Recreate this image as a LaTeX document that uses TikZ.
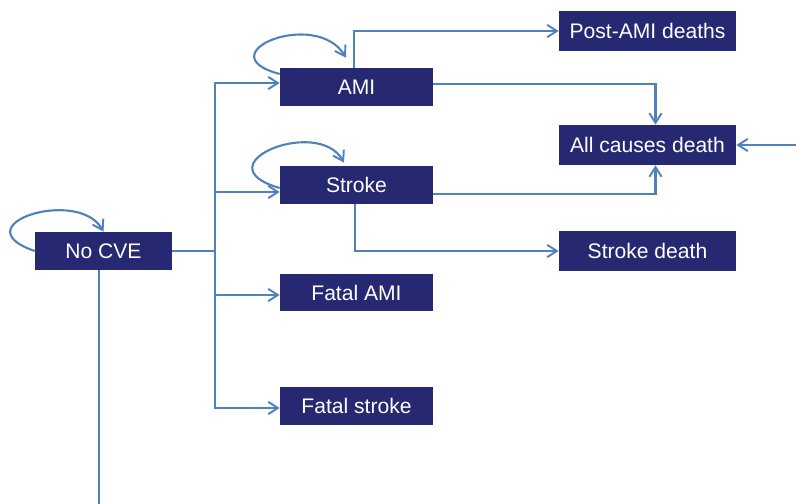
\documentclass[tikz,border=0pt]{standalone}
\usepackage{fontspec}
\setmainfont{Liberation Sans}
\usepackage{xcolor}
\usetikzlibrary{arrows.meta}
\definecolor{boxblue}{RGB}{38,40,114}
\definecolor{lineblue}{RGB}{79,129,189}
\tikzstyle {state box} = [rectangle, fill=boxblue, text=white, inner sep=0pt,
    minimum width=3.06cm, minimum height=0.76cm, font=\fontsize{12}{14}\selectfont]
\tikzstyle {death box} = [state box, minimum width=3.54cm, minimum height=0.8cm]
\tikzset{link/.style = {draw=lineblue, line width=1.2pt},
    flow/.style = {link, -{Straight Barb[length=5.5pt,width=7pt,line width=1.1pt]}}}

\begin{document}
\begin{tikzpicture}[x=0.02cm, y=-0.02cm]
            \useasboundingbox (0,0) rectangle (796,504);
            \node[state box, minimum width=2.74cm] (ncve) at (103.5, 251) {No CVE};
            \node[state box] (ami) at (356.5, 87) {AMI};
            \node[state box] (stroke) at (356.5, 185) {Stroke};
            \node[state box] (fami) at (356.5, 292.5) {Fatal AMI};
            \node[state box] (fstroke) at (356.5, 406) {Fatal stroke};
            \node[death box] (postami) at (647.5, 31) {Post-AMI deaths};
            \node[death box] (alldeath) at (647.5, 145) {All causes death};
            \node[death box] (sdeath) at (647.5, 251) {Stroke death};
            \coordinate (other) at (796, 145);
            \coordinate (exit) at (99, 504);
            \draw[flow] (ncve.west) .. controls +(-75,-26) and +(-25,-45) .. (ncve.north);
            \draw[flow] ([shift={(0,-13)}]ami.west) .. controls +(-75,-20) and +(-30,-50) .. ([shift={(-10.5,-10)}]ami.north);
            \draw[flow] ([shift={(0,3)}]stroke.west) .. controls +(-80,-23) and +(-26,-47) .. ([shift={(-12.5,-3)}]stroke.north);
            \draw[flow] (ncve.east) -- ++(43,0) |- ([shift={(0,-4)}]ami.west);
            \draw[flow] (ncve.east) -- ++(43,0) |- ([shift={(0,7)}]stroke.west);
            \draw[flow] (ncve.east) -- ++(43,0) |- ([shift={(0,2.5)}]fami.west);
            \draw[flow] (ncve.east) -- ++(43,0) |- ([shift={(0,2)}]fstroke.west);
            \draw[flow] ([shift={(-2.5,0)}]ami.north) |- (postami.west);
            \draw[flow] ([shift={(0,-3)}]ami.east) -| ([shift={(8,0)}]alldeath.north);
            \draw[flow] ([shift={(0,9)}]stroke.east) -| ([shift={(8,0)}]alldeath.south);
            \draw[flow] ([shift={(-1.5,0)}]stroke.south) |- (sdeath.west);
            \draw[flow] (other) -- (alldeath.east);
            \draw[link] ([shift={(-4.5,0)}]ncve.south) -- (exit);
        \end{tikzpicture}
\end{document}
